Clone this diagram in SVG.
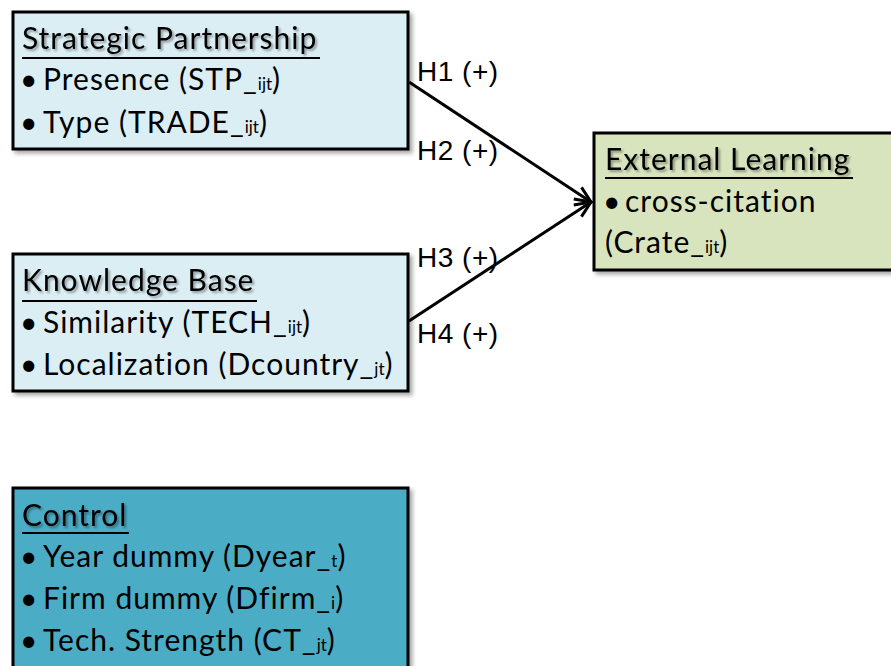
<svg xmlns="http://www.w3.org/2000/svg" width="891" height="666" viewBox="0 0 891 666">
<defs>
<filter id="sh" x="-5%" y="-5%" width="115%" height="120%">
<feGaussianBlur in="SourceAlpha" stdDeviation="2"/>
<feOffset dx="3" dy="3" result="o"/>
<feComponentTransfer><feFuncA type="linear" slope="0.35"/></feComponentTransfer>
<feMerge><feMergeNode/><feMergeNode in="SourceGraphic"/></feMerge>
</filter>
<filter id="tsh" x="-5%" y="-20%" width="115%" height="150%">
<feGaussianBlur in="SourceAlpha" stdDeviation="1.2"/>
<feOffset dx="2" dy="2"/>
<feComponentTransfer><feFuncA type="linear" slope="0.35"/></feComponentTransfer>
<feMerge><feMergeNode/><feMergeNode in="SourceGraphic"/></feMerge>
</filter>
<marker id="arr" viewBox="0 0 20 20" refX="18" refY="10" markerWidth="20" markerHeight="20" markerUnits="userSpaceOnUse" orient="auto">
<path d="M2,3 L18,10 L2,17" fill="none" stroke="#000" stroke-width="3"/>
</marker>
</defs>
<style>
.box{stroke:#000;stroke-width:3;filter:url(#sh)}
.t{font-family:Lato,"Open Sans",sans-serif;font-size:30px;letter-spacing:1px;fill:#000}
.ttl{filter:url(#tsh)}
.sub{font-size:17px;letter-spacing:0}
.ul{stroke:#000;stroke-width:2}
.h{font-family:"Liberation Sans",Arial,sans-serif;font-size:28px;letter-spacing:0.5px;fill:#000}
.c{stroke:#000;stroke-width:3;fill:none}
</style>
<rect width="891" height="666" fill="#fff"/>
<g id="connectors">
<line class="c" x1="409" y1="82" x2="591" y2="202" marker-end="url(#arr)"/>
<line class="c" x1="409" y1="321" x2="591" y2="202" marker-end="url(#arr)"/>
<text class="h" x="417" y="81">H1 (+)</text>
<text class="h" x="417" y="160">H2 (+)</text>
<text class="h" x="417" y="267">H3 (+)</text>
<text class="h" x="417" y="343">H4 (+)</text>
</g>
<g id="strategic">
<rect class="box" x="13" y="12" width="395" height="137" fill="#dbeef4"/>
<text class="t ttl" x="22" y="49">Strategic Partnership</text>
<line class="ul" x1="22" y1="58" x2="320" y2="58"/>
<text class="t" x="20" y="90">•<tspan x="43">Presence (STP_<tspan class="sub">ijt</tspan>)</tspan></text>
<text class="t" x="20" y="133">•<tspan x="43">Type (TRADE_<tspan class="sub">ijt</tspan>)</tspan></text>
</g>
<g id="knowledge">
<rect class="box" x="13" y="254" width="395" height="137" fill="#dbeef4"/>
<text class="t ttl" x="22" y="291">Knowledge Base</text>
<line class="ul" x1="22" y1="301" x2="257" y2="301"/>
<text class="t" x="20" y="333">•<tspan x="43">Similarity (TECH_<tspan class="sub">ijt</tspan>)</tspan></text>
<text class="t" x="20" y="375">•<tspan x="43">Localization (Dcountry_<tspan class="sub">jt</tspan>)</tspan></text>
</g>
<g id="control">
<rect class="box" x="13" y="488" width="395" height="200" fill="#4bacc6"/>
<text class="t ttl" x="22" y="526">Control</text>
<line class="ul" x1="22" y1="533" x2="129" y2="533"/>
<text class="t" x="20" y="567">•<tspan x="43">Year dummy (Dyear_<tspan class="sub">t</tspan>)</tspan></text>
<text class="t" x="20" y="609">•<tspan x="43">Firm dummy (Dfirm_<tspan class="sub">i</tspan>)</tspan></text>
<text class="t" x="20" y="651">•<tspan x="43">Tech. Strength (CT_<tspan class="sub">jt</tspan>)</tspan></text>
</g>
<g id="external">
<rect class="box" x="594" y="133" width="320" height="137" fill="#d7e4bd"/>
<text class="t ttl" x="605" y="170">External Learning</text>
<line class="ul" x1="605" y1="178" x2="853" y2="178"/>
<text class="t" x="603" y="212">•<tspan x="625">cross-citation</tspan></text>
<text class="t" x="605" y="253">(Crate_<tspan class="sub">ijt</tspan>)</text>
</g>
</svg>
